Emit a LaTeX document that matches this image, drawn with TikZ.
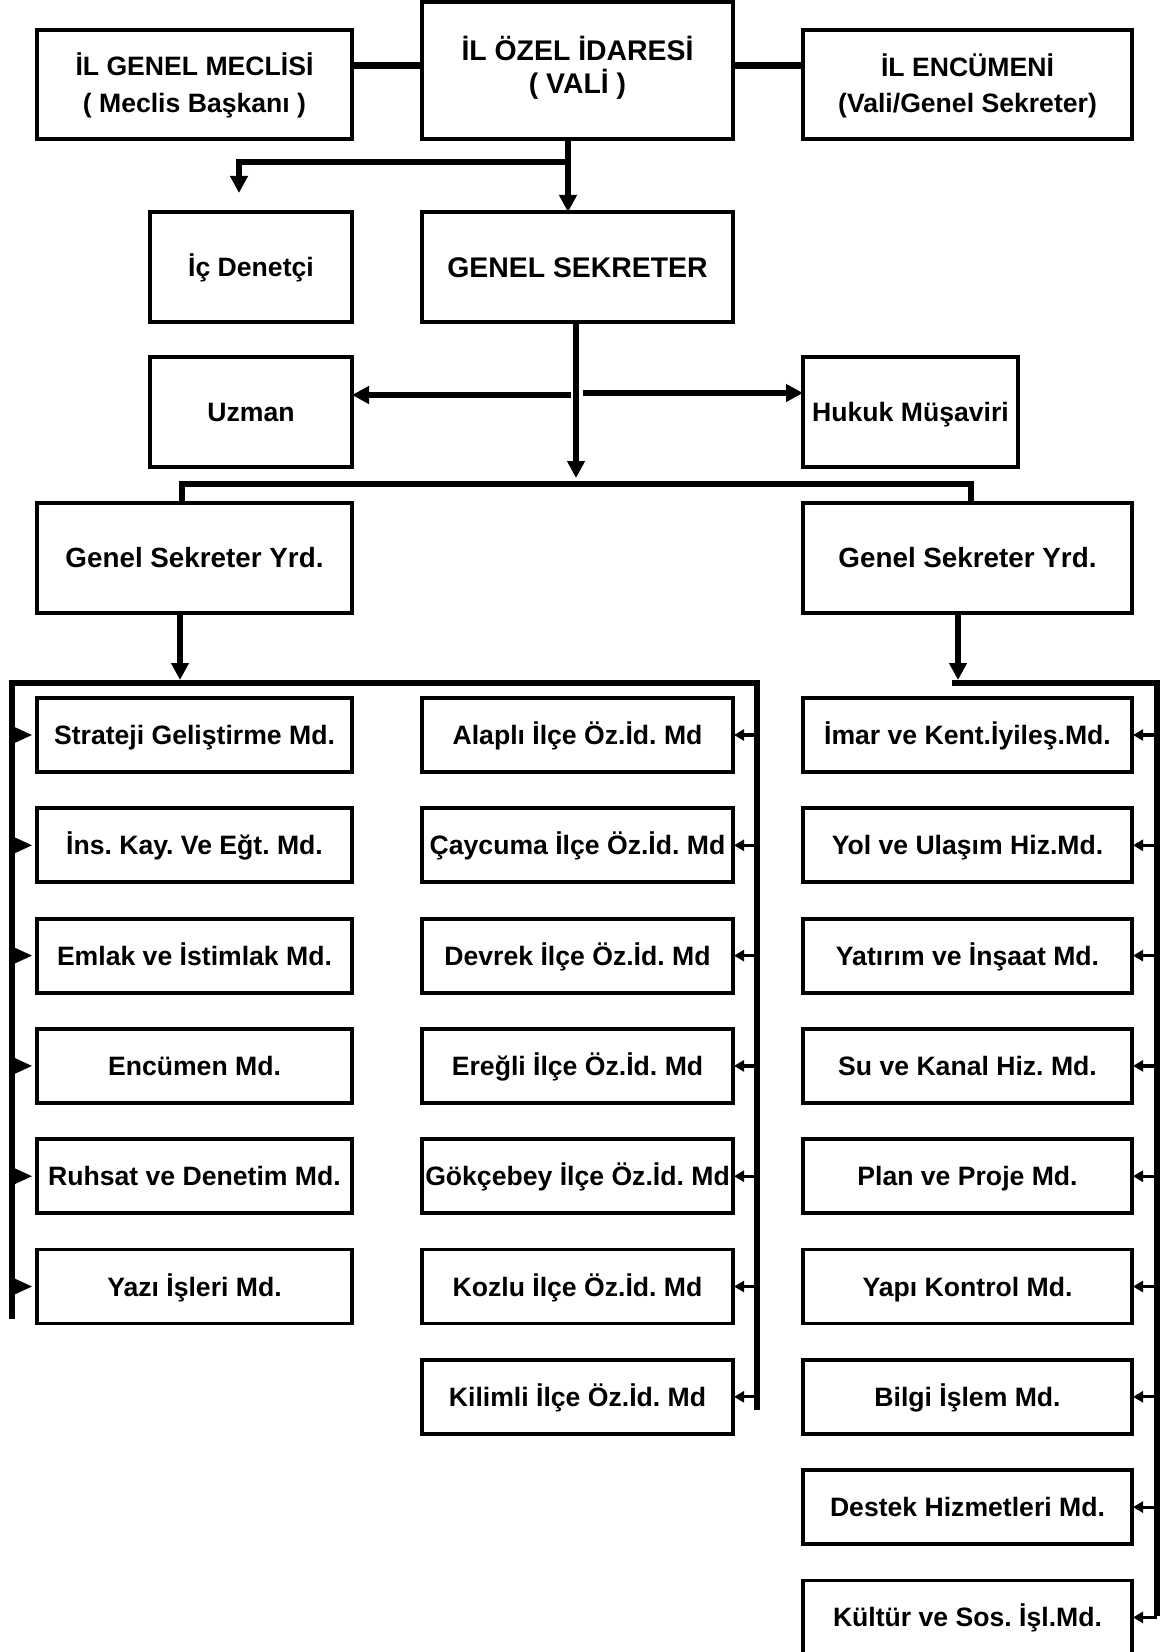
\documentclass[tikz,border=0pt]{standalone}
\usepackage{fontspec}
\setmainfont{Liberation Sans}
\usetikzlibrary{arrows.meta,calc}
\newcommand\fA{\fontsize{13.3}{16}\selectfont\bfseries}
\newcommand\fB{\fontsize{14.2}{17}\selectfont\bfseries}
\newcommand\fC{\fontsize{13.9}{17}\selectfont\bfseries}
\frenchspacing
\begin{document}
\frenchspacing
\begin{tikzpicture}[x=0.5pt,y=-0.5pt,
  box/.style={draw, line width=1.9pt, inner sep=0pt, outer sep=0pt, font=\fA, text height=9.5pt, text depth=0pt},
  wh/.style 2 args={minimum width=#1*0.5pt, minimum height=#2*0.5pt},
  txt/.style={inner sep=0pt, outer sep=0pt, anchor=base},
  conn/.style={line width=3pt, line join=miter},
  boldconn/.style={line width=3.5pt},
  head/.style={-{Triangle[length=8.5pt,width=8.5pt]}},
  lhead/.style={line width=1pt, -{Triangle[length=9pt,width=8pt]}},
  shead/.style={line width=1.6pt, -{Triangle[length=5pt,width=5.5pt]}},
  barline/.style={line width=3pt, line join=miter, line cap=rect}
]
\useasboundingbox (0,0) rectangle (1163,1652);

% top row
\node[box, wh={315}{109}] (meclis) at (194.5,84.5) {};
\node[txt, font=\fA] (meclisA) at ($(meclis.center)+(0,-8.5)$) {İL GENEL MECLİSİ};
\node[txt, font=\fA] (meclisB) at ($(meclis.center)+(0,28.5)$) {( Meclis Başkanı )};
\node[box, wh={311}{137}] (vali) at (577.5,70.5) {};
\node[txt, font=\fB] (valiA) at ($(vali.center)+(0,-10)$) {İL ÖZEL İDARESİ};
\node[txt, font=\fB] (valiB) at ($(vali.center)+(0,23)$) {( VALİ )};
\node[box, wh={329}{109}] (encumen) at (967.5,84.5) {};
\node[txt, font=\fA] (encA) at ($(encumen.center)+(0,-7.5)$) {İL ENCÜMENİ};
\node[txt, font=\fA] (encB) at ($(encumen.center)+(0,28.5)$) {(Vali/Genel Sekreter)};

\coordinate (hl) at (0,66);
\draw[boldconn] (meclis.east |- hl) -- (vali.west |- hl);
\draw[boldconn] (vali.east |- hl) -- (encumen.west |- hl);

% second row
\node[box, wh={202}{110}] (ic) at (251,267) {İç Denetçi};
\node[box, wh={311}{110}, font=\fB, text height=10.2pt] (gs) at (577.5,267) {GENEL SEKRETER};

\coordinate (vx) at (568,162);
\coordinate (ix) at (239,193);
\draw[conn, head] (vali.south -| vx) -- (gs.north -| vx);
\draw[conn, head] (vx) -- (ix |- vx) -- (ix);

% third row
\node[box, wh={202}{110}] (uzman) at (251,412) {Uzman};
\node[box, wh={215}{110}] (hukuk) at (910.5,412) {Hukuk Müşaviri};
\coordinate (gx) at (576,478);
\draw[conn, head] (gs.south -| gx) -- (gx);
\coordinate (ul) at (571,395);
\coordinate (hr) at (583,393);
\draw[conn, head] (ul) -- (uzman.east |- ul);
\draw[conn, head] (hr) -- (hukuk.west |- hr);

% bracket to GSY
\coordinate (b1) at (182,498);
\coordinate (b2) at (971,498);
\coordinate (by) at (0,484);
\draw[barline] (b1) -- (b1 |- by) -- (b2 |- by) -- (b2);

\node[box, wh={315}{110}, font=\fC, text height=9.95pt] (gsy1) at (194.5,558) {Genel Sekreter Yrd.};
\node[box, wh={329}{110}, font=\fC, text height=9.95pt] (gsy2) at (967.5,558) {Genel Sekreter Yrd.};

\coordinate (a1) at (180,680);
\coordinate (a2) at (958,680);
\draw[conn, head] (gsy1.south -| a1) -- (a1);
\draw[conn, head] (gsy2.south -| a2) -- (a2);

% lower brackets
\coordinate (Ltop) at (12,683);
\coordinate (Lbot) at (12,1316);
\coordinate (Mtop) at (757,683);
\coordinate (Mbot) at (757,1407);
\coordinate (Rst) at (955,683);
\coordinate (Rtop) at (1157,683);
\coordinate (Rbot) at (1157,1613);
\draw[barline] (Lbot) -- (Ltop) -- (Mtop) -- (Mbot);
\draw[barline] (Rst) -- (Rtop) -- (Rbot);

% left column
\foreach \t [count=\i] in {Strateji Geliştirme Md., İns. Kay. Ve Eğt. Md., Emlak ve İstimlak Md., Encümen Md., Ruhsat ve Denetim Md., Yazı İşleri Md.}{
  \node[box, wh={315}{74}] (l\i) at (194.5,{735+110.3*(\i-1)}) {\t};
  \draw[lhead] (Ltop |- l\i.west) -- ($(l\i.west)+(-5,0)$);
}
% middle column
\foreach \t [count=\i] in {Alaplı İlçe Öz.İd. Md, Çaycuma İlçe Öz.İd. Md, Devrek İlçe Öz.İd. Md, Ereğli İlçe Öz.İd. Md, Gökçebey İlçe Öz.İd. Md, Kozlu İlçe Öz.İd. Md, Kilimli İlçe Öz.İd. Md}{
  \node[box, wh={311}{74}] (m\i) at (577.5,{735+110.3*(\i-1)}) {\t};
  \draw[shead] (Mtop |- m\i.east) -- ($(m\i.east)+(1,0)$);
}
% right column
\foreach \t [count=\i] in {İmar ve Kent.İyileş.Md., Yol ve Ulaşım Hiz.Md., Yatırım ve İnşaat Md., Su ve Kanal Hiz. Md., Plan ve Proje Md., Yapı Kontrol Md., Bilgi İşlem Md., Destek Hizmetleri Md., Kültür ve Sos. İşl.Md.}{
  \node[box, wh={329}{74}] (r\i) at (967.5,{735+110.3*(\i-1)}) {\t};
  \draw[shead] (Rtop |- r\i.east) -- ($(r\i.east)+(1,0)$);
}
\end{tikzpicture}
\end{document}
